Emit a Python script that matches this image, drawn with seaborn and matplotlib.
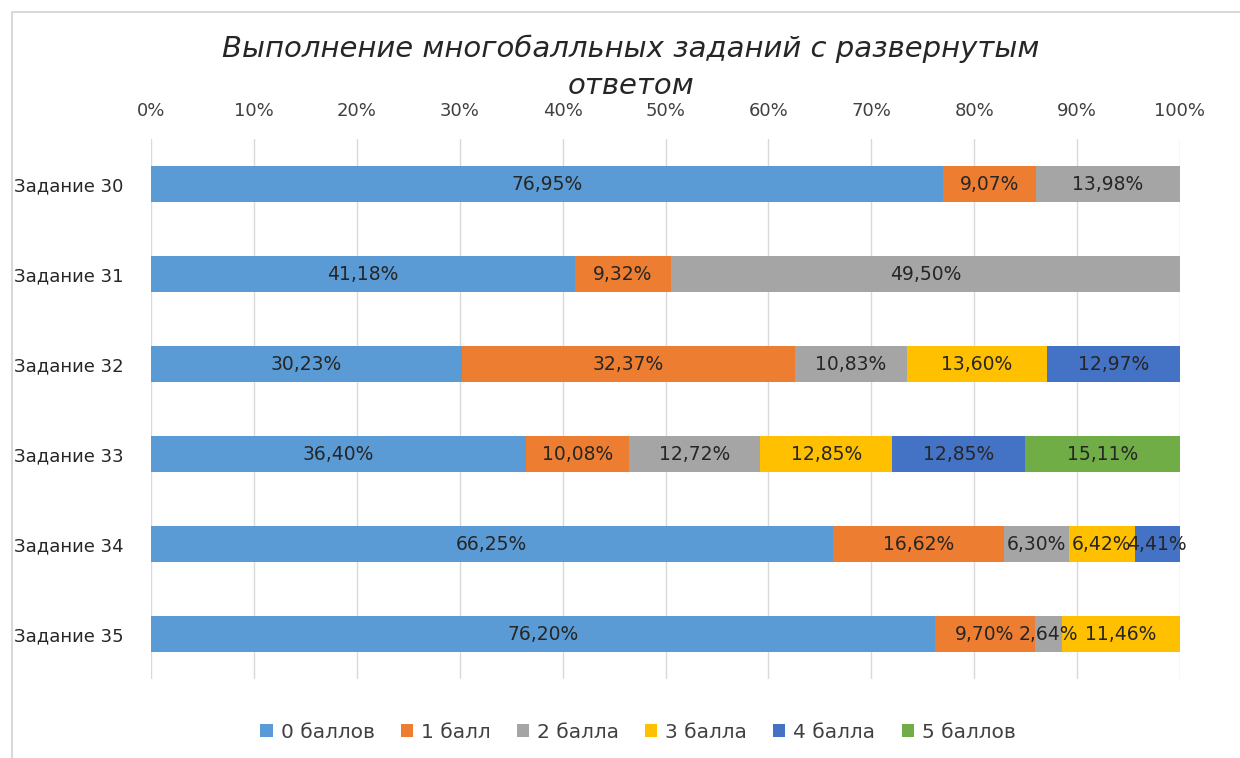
import matplotlib
matplotlib.use("Agg")
import matplotlib.pyplot as plt
import seaborn as sns
import pandas as pd
from matplotlib.patches import Rectangle

# Data
tasks = ["Задание 30", "Задание 31", "Задание 32", "Задание 33", "Задание 34", "Задание 35"]
score_labels = ["0 баллов", "1 балл", "2 балла", "3 балла", "4 балла", "5 баллов"]
score0 = [76.95, 41.18, 30.23, 36.40, 66.25, 76.20]
score1 = [9.07, 9.32, 32.37, 10.08, 16.62, 9.70]
score2 = [13.98, 49.50, 10.83, 12.72, 6.30, 2.64]
score3 = [0, 0, 13.60, 12.85, 6.42, 11.46]
score4 = [0, 0, 12.97, 12.85, 4.41, 0]
score5 = [0, 0, 0, 15.11, 0, 0]
colors = ["#5B9BD5", "#ED7D31", "#A5A5A5", "#FFC000", "#4472C4", "#70AD47"]

series = [score0, score1, score2, score3, score4, score5]
df = pd.DataFrame({lab: vals for lab, vals in zip(score_labels, series)}, index=tasks)
cum = df.cumsum(axis=1)

sns.set_theme(style="white")
plt.rcParams["font.family"] = ["DejaVu Sans"]

fig = plt.figure(figsize=(12.4, 7.58), dpi=100)
ax = fig.add_axes([151 / 1240, 1 - 679 / 758, (1180 - 151) / 1240, 540 / 758])

# stacked bars: draw cumulative totals from last to first
for lab, col in reversed(list(zip(score_labels, colors))):
    d = pd.DataFrame({"task": tasks, "val": cum[lab].values})
    sns.barplot(data=d, x="val", y="task", orient="h", color=col, width=0.4,
                saturation=1, ax=ax, label=lab, linewidth=0)

# labels in segment centres
for i, t in enumerate(tasks):
    left = 0
    for lab in score_labels:
        v = df.loc[t, lab]
        if v > 0:
            txt = f"{v:.2f}%".replace(".", ",")
            ax.text(left + v / 2, i, txt, ha="center", va="center",
                    fontsize=13.5, color="#262626")
        left += v

ax.set_xlim(0, 100)
ax.set_ylim(5.5, -0.5)
ax.set_xticks(range(0, 101, 10))
ax.set_xticklabels([f"{x}%" for x in range(0, 101, 10)], fontsize=13, color="#404040")
ax.xaxis.tick_top()
ax.tick_params(axis="x", length=0, pad=14)
ax.tick_params(axis="y", length=0, pad=20, labelsize=13, labelcolor="#262626")
ax.set_xlabel("")
ax.set_ylabel("")
ax.grid(axis="x", color="#D9D9D9", linewidth=1)
ax.set_axisbelow(True)
for s in ax.spines.values():
    s.set_visible(False)

# legend in original order
handles, labels = ax.get_legend_handles_labels()
order = [labels.index(l) for l in score_labels]
fig.legend([handles[k] for k in order], score_labels, loc="center",
           bbox_to_anchor=(638 / 1240, 1 - 732 / 758), ncol=6, frameon=False,
           fontsize=14.5, handlelength=0.6, handleheight=0.6, columnspacing=1.3,
           handletextpad=0.4, labelcolor="#404040")
if ax.get_legend():
    ax.get_legend().remove()

fig.text(631 / 1240, 1 - 49 / 758, "Выполнение многобалльных заданий с развернутым",
         ha="center", va="center", fontsize=21, style="italic", color="#262626")
fig.text(631 / 1240, 1 - 86 / 758, "ответом",
         ha="center", va="center", fontsize=21, style="italic", color="#262626")

# chart border
fig.patches.append(Rectangle((12 / 1240, -0.05), 1.1, 1 - 12 / 758 + 0.05,
                             transform=fig.transFigure, fill=False,
                             edgecolor="#D9D9D9", linewidth=1.5))

fig.savefig("out.png", dpi=100)
